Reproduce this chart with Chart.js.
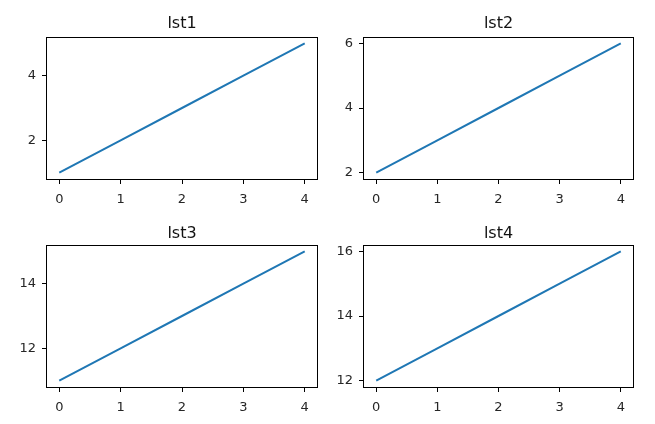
<!DOCTYPE html>
<html>
<head>
<meta charset="utf-8">
<script src="https://cdn.jsdelivr.net/npm/chart.js@4.4.0/dist/chart.umd.min.js"></script>
<style>
  html, body { margin: 0; padding: 0; background: #fff; }
  #fig { position: relative; width: 655px; height: 424px; }
  canvas { position: absolute; }
</style>
</head>
<body>
<div id="fig">
  <canvas id="c1" width="327" height="212" style="left:0;top:0"></canvas>
  <canvas id="c2" width="328" height="212" style="left:327px;top:0"></canvas>
  <canvas id="c3" width="327" height="212" style="left:0;top:212px"></canvas>
  <canvas id="c4" width="328" height="212" style="left:327px;top:212px"></canvas>
</div>
<script>
/* DATA */
const xValues = [0, 1, 2, 3, 4];
const xTicks = [0, 1, 2, 3, 4];

const lst1 = [1, 2, 3, 4, 5];
const lst2 = [2, 3, 4, 5, 6];
const lst3 = [11, 12, 13, 14, 15];
const lst4 = [12, 13, 14, 15, 16];

const yTicks1 = [2, 4];
const yTicks2 = [2, 4, 6];
const yTicks3 = [12, 14];
const yTicks4 = [12, 14, 16];

const titles = ['lst1', 'lst2', 'lst3', 'lst4'];

/* LAYOUT (pixels per panel) */
const panels = [
    { id: 'c1', values: lst1, ticks: yTicks1, yw: 47, xh: 33, padR: 10, top: 37, base: 28 },
    { id: 'c2', values: lst2, ticks: yTicks2, yw: 37, xh: 33, padR: 22, top: 37, base: 28 },
    { id: 'c3', values: lst3, ticks: yTicks3, yw: 47, xh: 37, padR: 10, top: 33, base: 26 },
    { id: 'c4', values: lst4, ticks: yTicks4, yw: 37, xh: 37, padR: 22, top: 33, base: 26 }
];

const tickFont = { family: 'DejaVu Sans', size: 13 };
const textColor = '#262626';

// matplotlib-like 5% margin around data
function padded(arr) {
    var lo = Math.min.apply(null, arr), hi = Math.max.apply(null, arr);
    var m = (hi - lo) * 0.05;
    return { min: lo - m, max: hi + m };
}

// black box around plot area + title centred over the axes
const frame = {
    id: 'frame',
    afterDraw(chart, args, opts) {
        var a = chart.chartArea, ctx = chart.ctx;
        ctx.save();
        ctx.strokeStyle = '#000';
        ctx.lineWidth = 1;
        ctx.strokeRect(Math.round(a.left) - 0.5, Math.round(a.top) + 0.5,
            Math.round(a.right) - Math.round(a.left) + 1, Math.round(a.bottom) - Math.round(a.top));

        ctx.fillStyle = '#111';
        ctx.font = '16px "DejaVu Sans"';
        ctx.textAlign = 'center';
        ctx.textBaseline = 'alphabetic';
        ctx.fillText(opts.text, (a.left + a.right) / 2, opts.base);
        ctx.restore();
    }
};

panels.forEach((p, i) => {
    var xr = padded(xValues), yr = padded(p.values);
    var ctx = document.getElementById(p.id).getContext('2d');

    new Chart(ctx, {
        type: 'line',
        data: {
            datasets: [{
                data: xValues.map((x, k) => ({ x: x, y: p.values[k] })),
                borderColor: '#1f77b4',
                borderWidth: 2,
                pointRadius: 0,
                tension: 0,
                fill: false
            }]
        },
        options: {
            responsive: false,
            animation: false,
            layout: { padding: { left: 0, right: p.padR, top: p.top, bottom: 0 } },
            scales: {
                x: {
                    type: 'linear',
                    min: xr.min,
                    max: xr.max,
                    afterBuildTicks: s => { s.ticks = xTicks.map(v => ({ value: v })); },
                    afterFit: s => { s.height = p.xh; },
                    border: { display: false },
                    grid: { drawOnChartArea: false, drawTicks: true, tickLength: 5, color: '#000', lineWidth: 1 },
                    ticks: { font: tickFont, color: textColor, padding: 8, maxRotation: 0 }
                },
                y: {
                    type: 'linear',
                    min: yr.min,
                    max: yr.max,
                    afterBuildTicks: s => { s.ticks = p.ticks.map(v => ({ value: v })); },
                    afterFit: s => { s.width = p.yw; },
                    border: { display: false },
                    grid: { drawOnChartArea: false, drawTicks: true, tickLength: 5, color: '#000', lineWidth: 1 },
                    ticks: { font: tickFont, color: textColor, padding: 6 }
                }
            },
            plugins: {
                legend: { display: false },
                tooltip: { enabled: false },
                title: { display: false },
                frame: { text: titles[i], base: p.base }
            }
        },
        plugins: [frame]
    });
});
</script>
</body>
</html>
